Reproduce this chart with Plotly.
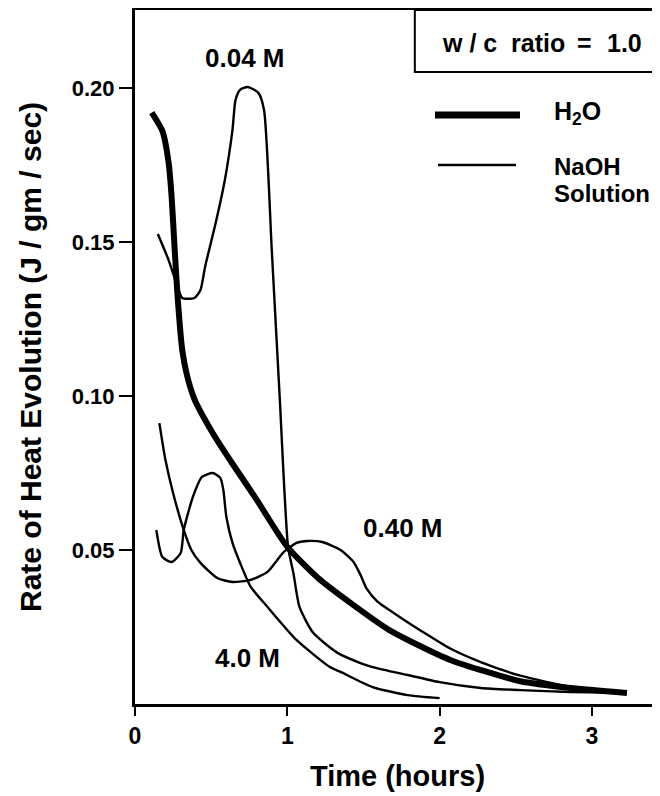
import plotly.graph_objects as go

# ---- data (time in hours, rate in J/gm/sec) ----
h2o_time = [0.11, 0.18, 0.22, 0.24, 0.26, 0.28, 0.31, 0.34, 0.39, 0.51, 0.64, 0.79, 1.00,
            1.20, 1.41, 1.67, 2.07, 2.53, 2.86, 3.23]
h2o_rate = [0.192, 0.186, 0.176, 0.165, 0.148, 0.132, 0.115, 0.107, 0.099, 0.088, 0.078,
            0.067, 0.051, 0.041, 0.033, 0.024, 0.0143, 0.0074, 0.0052, 0.0036]

m004_time = [0.15, 0.22, 0.28, 0.31, 0.39, 0.43, 0.46, 0.53, 0.59, 0.64, 0.66, 0.69,
             0.74, 0.81, 0.847, 0.898, 0.951, 1.005, 1.04, 1.08, 1.17, 1.33, 1.48, 1.56,
             1.79, 2.00, 2.27, 2.53, 2.86, 3.23]
m004_rate = [0.1526, 0.1442, 0.1354, 0.1318, 0.1318, 0.1344, 0.1419, 0.1562, 0.1701,
             0.1864, 0.1961, 0.1994, 0.2003, 0.1984, 0.1929, 0.1474, 0.0987, 0.0510,
             0.0425, 0.0315, 0.0231, 0.0166, 0.0133, 0.0120, 0.0094, 0.0071, 0.0052,
             0.0045, 0.0039, 0.0036]

m040_time = [0.16, 0.20, 0.25, 0.32, 0.37, 0.43, 0.54, 0.64, 0.76, 0.87, 0.97, 1.02,
             1.06, 1.13, 1.23, 1.35, 1.43, 1.48, 1.52, 1.59, 1.74, 1.89, 2.07, 2.27,
             2.53, 2.86, 3.23]
m040_rate = [0.0912, 0.0792, 0.0685, 0.0565, 0.0500, 0.0458, 0.0409, 0.0396, 0.0403,
             0.0429, 0.0490, 0.0510, 0.0523, 0.0529, 0.0526, 0.0500, 0.0464, 0.0420,
             0.0375, 0.0333, 0.0282, 0.0234, 0.0180, 0.0136, 0.0092, 0.0056, 0.0036]

m40_time = [0.14, 0.18, 0.24, 0.30, 0.32, 0.38, 0.44, 0.51, 0.56, 0.58, 0.60, 0.64,
            0.69, 0.76, 0.87, 1.06, 1.28, 1.35, 1.56, 1.79, 2.00]
m40_rate = [0.0565, 0.0477, 0.0461, 0.0490, 0.0565, 0.0672, 0.0737, 0.0750, 0.0734,
            0.0695, 0.0607, 0.0523, 0.0458, 0.0380, 0.0315, 0.0208, 0.0120, 0.0104,
            0.0055, 0.0029, 0.0019]

x_ticks = [0, 1, 2, 3]
y_ticks = [0.05, 0.10, 0.15, 0.20]
curve_labels = ["0.04 M", "0.40 M", "4.0 M"]
label_time = [0.72, 1.76, 0.74]
label_rate = [0.2097, 0.0571, 0.0149]
box_words = ["w / c", "ratio", "=", "1.0"]
box_word_x = [0.637, 0.7667, 0.856, 0.933]

FONT = "Liberation Sans, Arial, Helvetica, sans-serif"


def bold(size):
    return dict(family=FONT, size=size, color="black", weight="bold")


fig = go.Figure()
fig.add_trace(go.Scatter(x=h2o_time, y=h2o_rate, mode="lines",
                         line=dict(color="black", width=6, shape="spline", smoothing=0.6)))
for t, r in [(m004_time, m004_rate), (m040_time, m040_rate), (m40_time, m40_rate)]:
    fig.add_trace(go.Scatter(x=t, y=r, mode="lines",
                             line=dict(color="black", width=2.4, shape="spline", smoothing=0.6)))

for txt, xx, yy in zip(curve_labels, label_time, label_rate):
    fig.add_annotation(x=xx, y=yy, text=txt, showarrow=False, font=bold(26),
                       xanchor="center", yanchor="middle")

# boxed condition label
fig.add_shape(type="rect", xref="paper", yref="paper", x0=0.533, x1=1.05, y0=0.9107, y1=1.0,
              line=dict(color="black", width=2), fillcolor="white")
for w, xx in zip(box_words, box_word_x):
    fig.add_annotation(xref="paper", yref="paper", x=xx, y=0.9524, text=w,
                       xanchor="center", yanchor="middle",
                       showarrow=False, font=bold(25))

# legend
fig.add_shape(type="line", xref="paper", yref="paper", x0=0.5714, x1=0.7333, y0=0.8487, y1=0.8487,
              line=dict(color="black", width=7))
fig.add_shape(type="line", xref="paper", yref="paper", x0=0.5771, x1=0.7257, y0=0.7767, y1=0.7767,
              line=dict(color="black", width=2.4))
fig.add_annotation(xref="paper", yref="paper", x=0.7943, y=0.8516, xanchor="left", yanchor="middle",
                   text="H<sub>2</sub>O", showarrow=False, font=bold(25))
fig.add_annotation(xref="paper", yref="paper", x=0.7943, y=0.7738, xanchor="left", yanchor="middle",
                   text="NaOH", showarrow=False, font=bold(24))
fig.add_annotation(xref="paper", yref="paper", x=0.7943, y=0.7363, xanchor="left", yanchor="middle",
                   text="Solution", showarrow=False, font=bold(24))

fig.update_layout(
    width=652, height=788,
    margin=dict(l=127, r=0, t=2, b=92),
    paper_bgcolor="white", plot_bgcolor="white",
    showlegend=False,
    font=dict(family=FONT, color="black"),
    xaxis=dict(range=[0, 3.447], tickvals=x_ticks, ticktext=[str(v) for v in x_ticks],
               showgrid=False, zeroline=False, showline=True, linecolor="black", linewidth=3,
               mirror=True, ticks="outside", ticklen=9, tickwidth=2, tickcolor="black",
               tickfont=bold(23),
               title=dict(text="Time (hours)", standoff=19, font=bold(29))),
    yaxis=dict(range=[0, 0.2253], tickvals=y_ticks, tickformat=".2f",
               showgrid=False, zeroline=False, showline=True, linecolor="black", linewidth=3,
               ticks="outside", ticklen=13, tickwidth=2, tickcolor="black",
               tickfont=bold(22),
               title=dict(text="Rate of Heat Evolution (J / gm / sec)", standoff=22, font=bold(30))),
)

fig.write_html("out.html")
